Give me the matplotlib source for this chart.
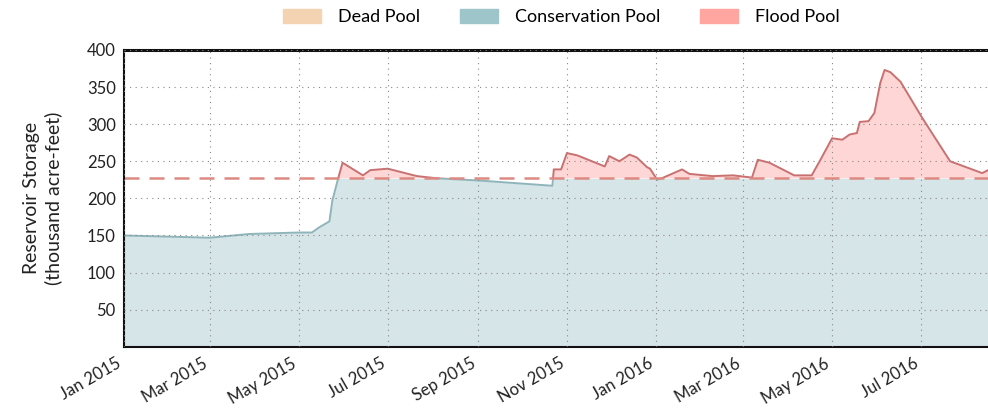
import numpy as np
import pandas as pd
import matplotlib
matplotlib.use("Agg")
import matplotlib.pyplot as plt
import matplotlib.dates as mdates
from matplotlib.patches import Patch, Rectangle

plt.rcParams['font.family'] = ['Lato', 'DejaVu Sans']

# storage readings (thousand acre-feet)
dates = ['2015-01-01', '2015-03-01', '2015-03-28', '2015-05-01', '2015-05-10',
         '2015-05-15', '2015-05-22', '2015-05-24', '2015-05-28', '2015-05-31',
         '2015-06-14', '2015-06-19', '2015-07-01', '2015-07-21', '2015-08-04',
         '2015-09-02', '2015-10-22', '2015-10-23', '2015-10-28', '2015-11-01',
         '2015-11-08', '2015-11-27', '2015-11-30', '2015-12-07', '2015-12-14',
         '2015-12-19', '2015-12-26', '2015-12-28', '2016-01-02', '2016-01-05',
         '2016-01-19', '2016-01-24', '2016-02-09', '2016-02-23', '2016-03-07',
         '2016-03-11', '2016-03-19', '2016-04-05', '2016-04-17', '2016-04-23',
         '2016-05-01', '2016-05-08', '2016-05-13', '2016-05-18', '2016-05-20',
         '2016-05-26', '2016-05-30', '2016-06-03', '2016-06-06', '2016-06-10',
         '2016-06-17', '2016-07-02', '2016-07-21', '2016-08-12', '2016-08-16']
storage = [150, 147, 152, 154, 154,
           161, 169, 197, 227, 248,
           231, 238, 240, 230, 227,
           224, 217, 239, 239, 261,
           258, 243, 257, 250, 259,
           255, 242, 240, 225, 227,
           239, 233, 230, 231, 228,
           252, 248, 231, 231, 252,
           281, 279, 286, 288, 303,
           304, 315, 355, 373, 370,
           357, 308, 250, 234, 238]
flood_level = 227
legend_labels = ['Dead Pool', 'Conservation Pool', 'Flood Pool']
yticks = [50, 100, 150, 200, 250, 300, 350, 400]

x = pd.to_datetime(dates)
s = np.array(storage, dtype=float)

fig = plt.figure(figsize=(9.88, 4.09), dpi=100)
ax = fig.add_axes([0.1255, 0.152, 0.8745, 0.726])

ax.fill_between(x, 0, np.minimum(s, flood_level), color='#d6e5e8', lw=0)
ax.fill_between(x, flood_level, s, where=s >= flood_level, interpolate=True,
                color='#ffd6d6', lw=0)

lo, = ax.plot(x, s, color='#8fb5bb', lw=1.4)
hi, = ax.plot(x, s, color='#c97171', lw=1.4)
big = 1e6
lo.set_clip_path(Rectangle((-big, -big), 2 * big, big + flood_level, transform=ax.transData))
hi.set_clip_path(Rectangle((-big, flood_level), 2 * big, big, transform=ax.transData))

ax.axhline(flood_level, color='#dc8a82', lw=1.8, dashes=(6, 4))

ax.set_ylim(0, 400)
ax.set_xlim(x[0], x[-1])
ax.set_yticks(yticks)
ax.xaxis.set_major_locator(mdates.MonthLocator(bymonth=[1, 3, 5, 7, 9, 11]))
ax.xaxis.set_major_formatter(mdates.DateFormatter('%b %Y'))
plt.setp(ax.get_xticklabels(), rotation=30, ha='right')
ax.tick_params(length=0, labelsize=12, colors='#222222', pad=6)

ax.grid(True, ls=(0, (1, 4)), color='#888888', lw=0.8)
ax.set_axisbelow(False)
for sp in ['left', 'bottom']:
    ax.spines[sp].set_linewidth(1.5)
    ax.spines[sp].set_color('#111111')
ax.spines['top'].set_linewidth(2.2)
ax.spines['top'].set_color('#111111')
ax.spines['right'].set_visible(False)

ax.set_ylabel('Reservoir Storage\n(thousand acre-feet)', fontsize=14, color='#222222',
              labelpad=18, linespacing=1.25)

handles = [Patch(color='#f3d3b1'), Patch(color='#9ec5ca'), Patch(color='#ffa6a1')]
fig.legend(handles, legend_labels, ncol=3, loc='center', bbox_to_anchor=(0.568, 0.958),
           frameon=False, fontsize=13, handlelength=2.1, handleheight=0.8,
           columnspacing=2.2, handletextpad=0.95)

fig.savefig('out.png', dpi=100)
